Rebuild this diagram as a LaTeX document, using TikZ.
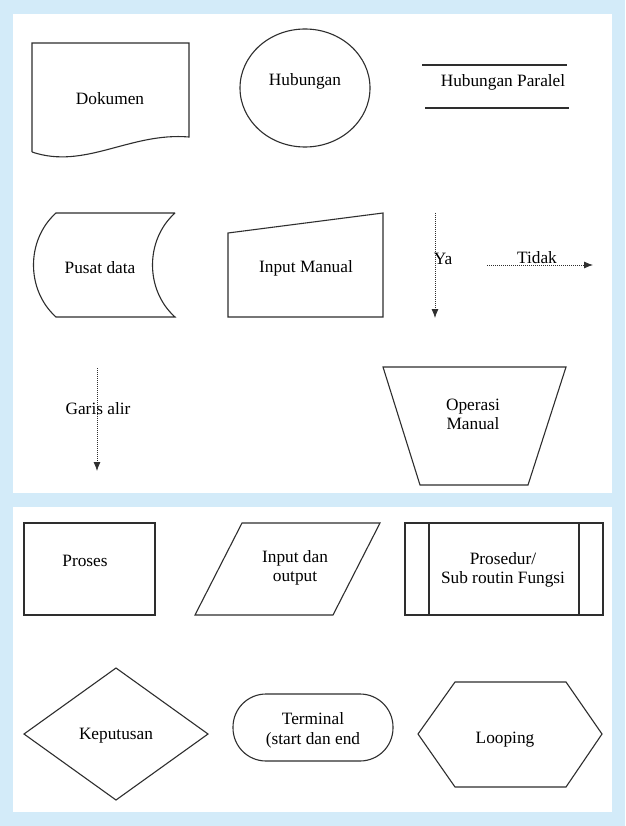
\documentclass[tikz,border=0pt]{standalone}
\usepackage{fontspec}
\setmainfont{Liberation Serif}
\usetikzlibrary{arrows.meta}
\definecolor{bgblue}{HTML}{D3EBF9}
\definecolor{ink}{HTML}{2E2E2E}
\begin{document}
\begin{tikzpicture}[x=1pt,y=-1pt,
  shp/.style={draw=ink, line width=1.1pt, line join=miter},
  lbl/.style={font=\fontsize{17.3}{17}\selectfont, align=center, inner sep=0pt, text=black},
  flow/.style={draw=ink, line width=0.8pt, dash pattern=on 1pt off 1pt, -{Latex[length=9pt,width=7pt]}}]
\useasboundingbox (0,0) rectangle (625,826);
\fill[bgblue] (0,0) rectangle (625,826);
\fill[white] (13,14) rectangle (612,493);
\fill[white] (13,507) rectangle (612,812);

% Dokumen
\draw[shp] (32,152) -- (32,43) -- (189,43) -- (189,137) .. controls (130,132) and (85,170) .. (32,152);
\node[lbl] (dok) at (110,99) {Dokumen};

% Hubungan
\draw[shp] (305,88) ellipse [x radius=65, y radius=59];
\node[lbl] (hub) at (305,81) {Hubungan};

% Hubungan Paralel
\draw[shp] (422,65) -- (567,65);
\draw[shp] (425,108) -- (569,108);
\node[lbl] (par) at (503,82) {Hubungan Paralel};

% Pusat data
\draw[shp] (175,213) -- (56,213) .. controls (26,240) and (26,290) .. (56,317) -- (175,317)
  .. controls (145,290) and (145,240) .. (175,213);
\node[lbl] (pusat) at (100,268) {Pusat data};

% Input Manual
\draw[shp] (228,233) -- (383,213) -- (383,317) -- (228,317) -- cycle;
\node[lbl] (inman) at (306,268) {Input Manual};

% Ya / Tidak
\coordinate (ya1) at (435,213);
\coordinate (ya2) at (435,318);
\draw[flow] (ya1) -- (ya2);
\node[lbl] (ya) at (443,259) {Ya};
\coordinate (td1) at (487,265);
\coordinate (td2) at (593,265);
\draw[flow] (td1) -- (td2);
\node[lbl, anchor=base] (tidak) at (537,263) {Tidak};

% Garis alir
\coordinate (ga1) at (97,368);
\coordinate (ga2) at (97,471);
\draw[flow] (ga1) -- (ga2);
\node[lbl] (garis) at (98,409) {Garis alir};

% Operasi Manual
\draw[shp] (383,367) -- (566,367) -- (528,485) -- (420,485) -- cycle;
\node[lbl, font=\fontsize{17.3}{19}\selectfont] (opm) at (473,414) {Operasi\\Manual};

% Proses
\draw[shp] (24,523) rectangle (155,615);
\node[lbl] (proses) at (85,561) {Proses};

% Input dan output
\draw[shp] (242,523) -- (380,523) -- (333,615) -- (195,615) -- cycle;
\node[lbl, font=\fontsize{17.3}{19}\selectfont] (io) at (295,568) {Input dan\\output};

% Prosedur
\draw[shp] (405,523) rectangle (603,615);
\draw[shp] (429,523) -- (429,615);
\draw[shp] (579,523) -- (579,615);
\node[lbl, font=\fontsize{17.3}{19}\selectfont] (pros) at (503,570) {Prosedur/\\Sub routin Fungsi};

% Keputusan
\draw[shp] (116,668) -- (208,734) -- (116,800) -- (24,734) -- cycle;
\node[lbl] (kep) at (116,736) {Keputusan};

% Terminal
\draw[shp, rounded corners=33] (233,694) rectangle (393,761);
\node[lbl, font=\fontsize{17.3}{20}\selectfont] (term) at (313,730) {Terminal\\(start dan end};

% Looping
\draw[shp] (418,734) -- (455,682) -- (566,682) -- (602,734) -- (566,787) -- (455,787) -- cycle;
\node[lbl] (loop) at (505,740) {Looping};
\end{tikzpicture}
\end{document}
